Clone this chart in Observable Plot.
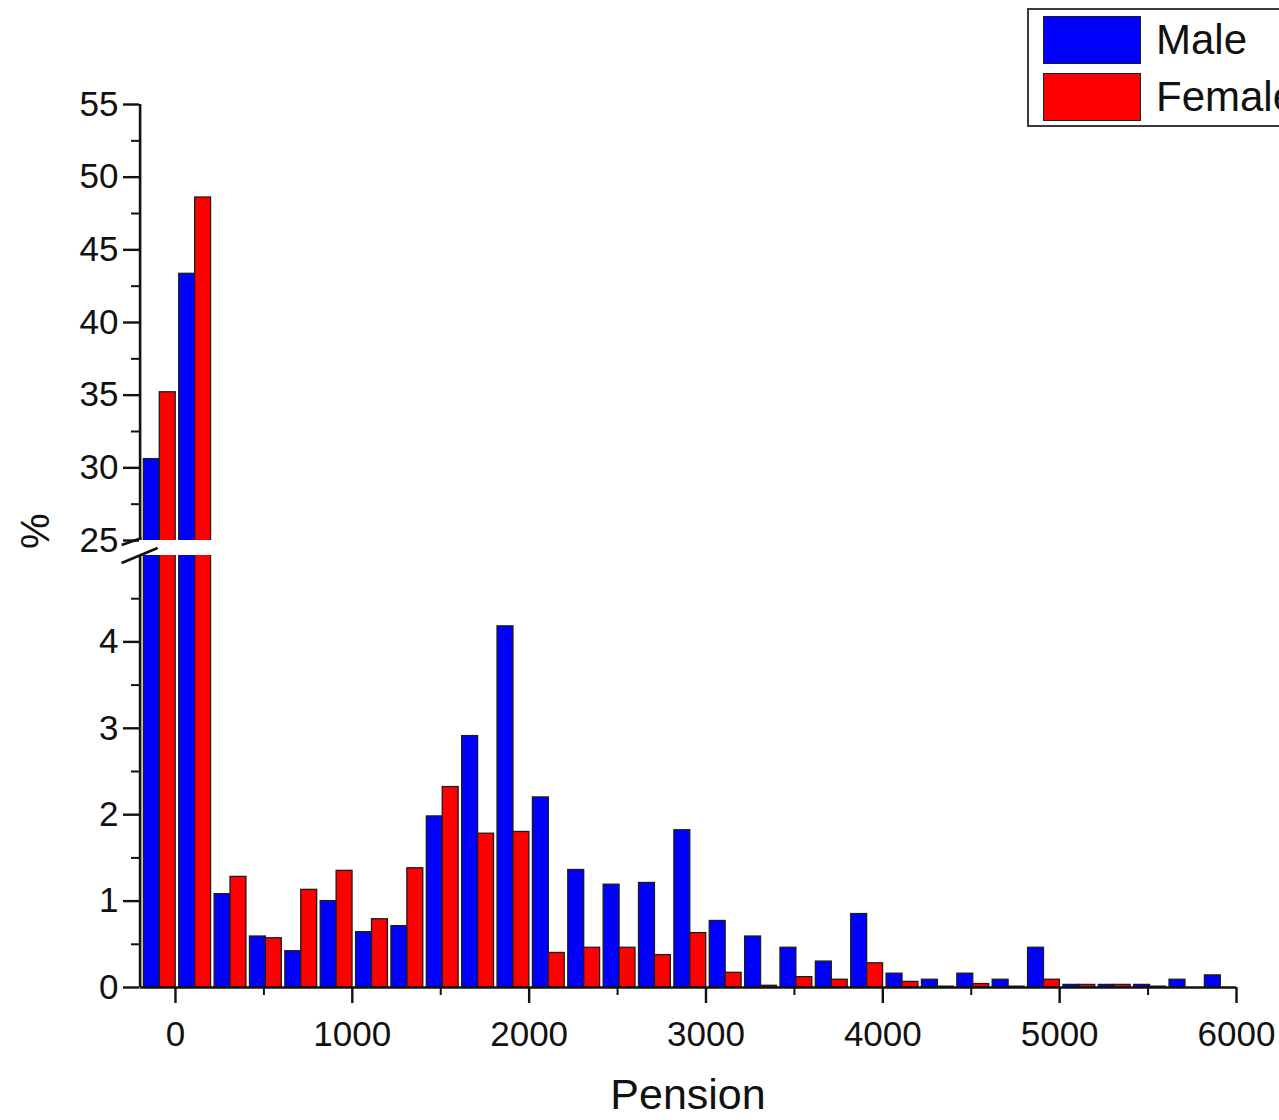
<!DOCTYPE html>
<html><head><meta charset="utf-8">
<script src="https://cdn.jsdelivr.net/npm/d3@7"></script>
<script src="https://cdn.jsdelivr.net/npm/@observablehq/plot@0.6"></script>
<style>
html,body{margin:0;padding:0;background:#fff;overflow:hidden;}
#wrap{position:relative;width:1279px;height:1120px;overflow:hidden;font-family:"Liberation Sans",Arial,sans-serif;}
#legend{position:absolute;left:1027px;top:8px;width:320px;height:119px;border:2px solid #3a3a3a;background:#fff;box-sizing:border-box;}
.item{position:absolute;left:14px;height:50px;display:flex;align-items:center;}
.sw{width:98px;height:48px;border:1.5px solid #222;box-sizing:border-box;}
.lab{margin-left:15px;font-size:42px;color:#111;line-height:1;}
</style></head><body><div id="wrap"></div>
<script>
const binCenters = [-100,100,300,500,700,900,1100,1300,1500,1700,1900,2100,2300,2500,2700,2900,3100,3300,3500,3700,3900,4100,4300,4500,4700,4900,5100,5300,5500,5700,5900];
const maleValues = [30.6,43.35,1.08,0.59,0.42,1.0,0.64,0.71,1.98,2.91,4.18,2.2,1.36,1.19,1.21,1.82,0.77,0.59,0.46,0.3,0.85,0.16,0.09,0.16,0.09,0.46,0.03,0.03,0.03,0.09,0.14];
const femaleValues = [35.2,48.6,1.28,0.57,1.13,1.35,0.79,1.38,2.32,1.78,1.8,0.4,0.46,0.46,0.375,0.63,0.17,0.02,0.12,0.09,0.28,0.065,0.01,0.04,0.01,0.09,0.03,0.03,0.01,0,0];
const seriesNames = ["Male","Female"];
const seriesColors = ["#0000ff","#ff0000"];
const xTicks = [0,1000,2000,3000,4000,5000,6000];
const xMinorTicks = [500,1500,2500,3500,4500,5500];
const yTicks = [0,1,2,3,4,25,30,35,40,45,50,55];
const yMinorTicks = [0.5,1.5,2.5,3.5,4.5,27.5,32.5,37.5,42.5,47.5,52.5];
const yBreak = [5,25];
const xDomain = [-200,6000];

const halfBin = 90;
const rows = [];
binCenters.forEach((c,i)=>{
  rows.push({series:"Male", value:maleValues[i], x1:c-halfBin, x2:c});
  rows.push({series:"Female", value:femaleValues[i], x1:c, x2:c+halfBin});
});

const font = '"Liberation Sans", Arial, sans-serif';
const chart = Plot.plot({
  width:1279, height:1120,
  marginLeft:139, marginRight:43, marginTop:104, marginBottom:133,
  style:{fontFamily:font, background:"#fff", color:"#000"},
  x:{domain:xDomain, range:[139.6,1236]},
  y:{type:"linear", domain:[0,yBreak[0],yBreak[1],55], range:[987,555,540,104]},
  color:{domain:seriesNames, range:seriesColors},
  marks:[
    Plot.rect(rows,{x1:"x1",x2:"x2",y1:0,y2:"value",fill:"series",stroke:"#1c1c1c",strokeWidth:1.3,dx:2}),
    Plot.rect([yBreak],{x1:xDomain[0],x2:xDomain[1],y1:d=>d[0],y2:d=>d[1],fill:"#fff"}),
    Plot.ruleX([[0,yBreak[0]],[yBreak[1],55]],{x:xDomain[0],y1:d=>d[0],y2:d=>d[1],stroke:"#111",strokeWidth:2.6}),
    Plot.ruleY([0],{x1:xDomain[0],x2:xDomain[1],stroke:"#111",strokeWidth:2.6}),
    Plot.axisY(yTicks,{anchor:"left",tickSize:16,tickPadding:5,fontSize:35,stroke:"#111",strokeWidth:2.4,fill:"#111",label:null,tickFormat:d=>String(d)}),
    Plot.axisY(yMinorTicks,{anchor:"left",tickSize:8,text:null,stroke:"#111",strokeWidth:2,label:null}),
    Plot.axisX(xTicks,{anchor:"bottom",tickSize:16,tickPadding:18,fontSize:35,stroke:"#111",strokeWidth:2.4,fill:"#111",label:null,tickFormat:d=>String(d)}),
    Plot.axisX(xMinorTicks,{anchor:"bottom",tickSize:8,text:null,stroke:"#111",strokeWidth:2,label:null}),
    Plot.text(["Pension"],{frameAnchor:"bottom",dy:108,lineAnchor:"middle",fontSize:43,fill:"#111"}),
    Plot.text(["%"],{frameAnchor:"left",dx:-103,dy:3,rotate:-90,lineAnchor:"middle",fontSize:40,fill:"#111"})
  ]
});
document.getElementById("wrap").appendChild(chart);

// axis break slashes
const xs = chart.scale("x"), ys = chart.scale("y");
const ax = xs.apply(xDomain[0]), yLo = ys.apply(yBreak[0]), yHi = ys.apply(yBreak[1]);
const g = d3.select(chart).append("g").attr("stroke","#111").attr("stroke-width",2.6).attr("fill","none");
g.append("line").attr("x1",ax-18).attr("y1",yLo+8).attr("x2",ax+18).attr("y2",yLo-7);
g.append("line").attr("x1",ax-18).attr("y1",yHi+5).attr("x2",ax+2).attr("y2",yHi-2);

// legend
const leg = document.createElement("div");
leg.id = "legend";
seriesNames.forEach((n,i)=>{
  const it = document.createElement("div");
  it.className="item"; it.style.top = (5+i*57)+"px";
  const sw = document.createElement("div"); sw.className="sw"; sw.style.background=seriesColors[i];
  const lb = document.createElement("div"); lb.className="lab"; lb.textContent=n;
  it.appendChild(sw); it.appendChild(lb); leg.appendChild(it);
});
document.getElementById("wrap").appendChild(leg);
</script></body></html>
